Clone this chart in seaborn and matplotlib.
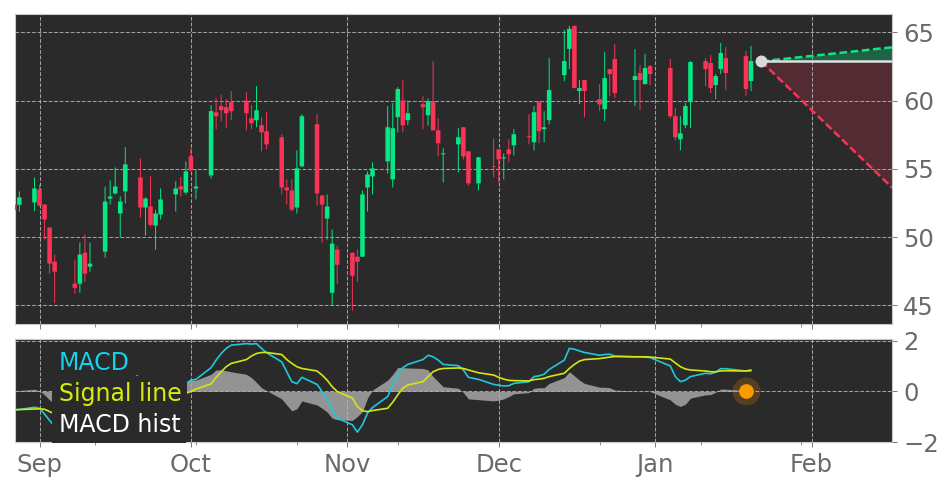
import numpy as np
import pandas as pd
import seaborn as sns
import matplotlib
matplotlib.use('Agg')
import matplotlib.pyplot as plt

dates = ['2020-08-27','2020-08-28','2020-08-31','2020-09-01','2020-09-02','2020-09-03','2020-09-04',
         '2020-09-08','2020-09-09','2020-09-10','2020-09-11','2020-09-14','2020-09-15','2020-09-16','2020-09-17','2020-09-18',
         '2020-09-21','2020-09-22','2020-09-23','2020-09-24','2020-09-25','2020-09-28','2020-09-29','2020-09-30','2020-10-01','2020-10-02',
         '2020-10-05','2020-10-06','2020-10-07','2020-10-08','2020-10-09','2020-10-12','2020-10-13','2020-10-14','2020-10-15','2020-10-16',
         '2020-10-19','2020-10-20','2020-10-21','2020-10-22','2020-10-23','2020-10-26','2020-10-27','2020-10-28','2020-10-29','2020-10-30',
         '2020-11-02','2020-11-03','2020-11-04','2020-11-05','2020-11-06','2020-11-09','2020-11-10','2020-11-11','2020-11-12','2020-11-13',
         '2020-11-16','2020-11-17','2020-11-18','2020-11-19','2020-11-20','2020-11-23','2020-11-24','2020-11-25','2020-11-27',
         '2020-11-30','2020-12-01','2020-12-02','2020-12-03','2020-12-04','2020-12-07','2020-12-08','2020-12-09','2020-12-10','2020-12-11',
         '2020-12-14','2020-12-15','2020-12-16','2020-12-17','2020-12-18','2020-12-21','2020-12-22','2020-12-23','2020-12-24',
         '2020-12-28','2020-12-29','2020-12-30','2020-12-31','2021-01-04','2021-01-05','2021-01-06','2021-01-07','2021-01-08',
         '2021-01-11','2021-01-12','2021-01-13','2021-01-14','2021-01-15','2021-01-19','2021-01-20']

opens = [52.38,52.36,52.53,53.48,52.38,50.69,48.2,
         46.58,46.58,48.85,47.83,48.93,52.82,53.19,51.72,53.34,
         54.37,52.16,52.24,50.84,51.65,53.12,53.71,53.26,55.91,53.56,
         54.51,59.14,59.59,59.51,59.88,60.0,58.7,58.56,58.19,57.75,
         57.31,53.63,53.41,52.16,55.18,58.26,53.04,51.35,45.91,49.08,
         48.85,48.56,48.56,53.63,54.44,55.54,54.22,58.78,60.0,58.56,
         59.73,58.92,59.95,57.82,56.06,56.79,58.04,56.28,53.93,
         55.18,56.42,55.76,56.42,56.72,57.38,56.94,59.88,57.9,58.56,
         61.86,63.78,65.47,60.69,61.5,60.1,59.36,62.3,63.04,
         61.5,62.01,61.2,62.52,62.38,58.85,57.16,58.19,59.88,
         62.89,62.75,61.13,62.3,63.11,63.26,61.42]
highs = [52.5,53.34,54.37,53.83,52.4,50.7,48.71,
         48.34,49.59,50.18,49.59,53.7,54.15,55.1,52.97,56.57,
         55.76,52.9,54.44,52.0,53.56,54.07,54.39,55.54,56.5,54.95,
         59.66,60.17,60.4,60.1,60.69,60.6,59.66,61.06,58.78,59.14,
         57.53,54.22,54.22,56.35,59.0,59.0,53.05,53.12,50.55,49.37,
         48.86,49.08,53.41,54.81,55.47,59.59,59.81,60.98,61.5,60.0,
         60.32,60.15,62.89,58.7,56.5,57.97,58.05,56.3,55.85,
         57.23,56.43,56.13,57.16,57.9,59.0,59.59,59.95,59.22,63.11,
         65.17,65.47,65.48,61.5,61.51,61.2,63.55,62.31,64.14,
         63.78,62.6,63.41,62.6,63.04,59.44,58.85,59.81,62.89,
         63.11,63.33,61.94,64.22,63.92,63.63,64.0]
lows = [51.9,51.87,51.9,52.26,49.81,47.31,45.15,
        45.84,45.91,46.72,47.46,48.49,52.38,53.12,50.0,52.46,
        51.43,50.1,50.77,49.08,51.28,51.87,52.97,53.12,54.81,52.75,
        54.29,57.9,58.48,57.97,58.56,57.82,57.9,58.04,56.28,56.42,
        53.12,52.38,51.87,51.72,55.1,52.31,49.58,49.81,45.03,46.58,
        44.59,46.72,48.55,51.87,53.12,54.66,53.63,57.67,57.67,58.19,
        57.9,58.16,57.8,55.91,54.0,54.73,55.69,53.78,53.41,
        54.37,54.0,54.22,55.47,55.98,56.79,56.35,56.87,56.94,58.26,
        61.42,62.3,60.9,59.73,58.78,59.22,58.48,60.32,60.17,
        59.59,59.3,61.19,61.13,58.7,57.09,56.35,57.97,57.97,
        61.06,60.54,60.1,61.94,60.76,60.35,60.69]
closes = [51.97,52.9,53.56,52.31,51.28,48.05,47.46,
          46.28,48.71,47.31,48.05,52.6,52.97,53.7,52.6,55.32,
          52.16,52.82,50.89,51.72,52.75,53.56,53.48,54.81,54.88,53.7,
          59.22,58.85,59.29,59.07,59.22,59.07,58.34,59.29,57.67,56.79,
          53.63,53.41,52.0,55.03,58.85,53.19,52.38,52.24,49.52,47.97,
          47.16,48.19,53.12,54.59,55.03,58.04,57.97,60.84,58.19,59.07,
          59.51,59.95,57.82,56.87,56.13,57.31,55.91,53.93,55.84,
          55.13,55.69,55.84,56.06,57.53,57.31,59.14,57.75,58.04,60.76,
          62.89,65.25,60.91,60.91,60.69,59.71,61.64,61.94,60.54,
          61.79,61.5,62.38,61.94,58.85,57.31,57.6,59.59,62.82,
          62.3,60.91,61.79,63.48,62.01,60.84,62.89]

macd = [-.73,-.72,-.63,-.67,-.9,-1.15,-1.39,
        -1.5,-1.35,-1.25,-1.1,-.85,-.6,-.4,-.25,-.1,
        -.15,-.2,-.25,-.22,-.15,0,.1,.3,.44,.47,
        .93,1.23,1.49,1.69,1.82,1.88,1.86,1.88,1.69,1.52,
        1.16,.77,.38,.3,.55,.27,-.01,-.34,-.73,-1.06,
        -1.32,-1.61,-1.32,-.86,-.64,-.21,.25,.67,.93,1.06,
        1.25,1.42,1.36,1.23,1.06,1.01,.84,.55,.47,
        .27,.24,.21,.22,.31,.38,.58,.61,.67,.86,
        1.23,1.69,1.66,1.59,1.53,1.42,1.45,1.46,1.39,
        1.36,1.36,1.35,1.33,1.0,.58,.38,.44,.58,
        .71,.69,.75,.89,.89,.8,.85]
signal = [-.73,-.72,-.7,-.69,-.71,-.8,-.9,
          -1.0,-1.05,-1.08,-1.1,-1.05,-.98,-.9,-.8,-.7,
          -.6,-.5,-.42,-.36,-.3,-.22,-.14,-.08,-.01,.09,
          .29,.55,.77,.97,1.1,1.25,1.39,1.49,1.53,1.53,
          1.45,1.25,1.1,.97,.9,.8,.64,.44,.18,-.01,
          -.27,-.6,-.77,-.8,-.76,-.67,-.43,-.14,.12,.25,
          .38,.58,.77,.86,.9,.92,.9,.84,.73,
          .64,.55,.48,.43,.42,.41,.46,.48,.51,.58,
          .71,.9,1.06,1.19,1.25,1.29,1.32,1.35,1.37,
          1.36,1.36,1.36,1.35,1.27,1.12,.97,.88,.84,
          .8,.77,.77,.8,.81,.8,.81]
hist = [-.01,.03,.08,.02,-.14,-.34,-.5,
        -.45,-.3,-.15,0,.2,.38,.5,.65,.8,
        .6,.5,.4,.3,.25,.22,.25,.35,.44,.44,
        .67,.84,.84,.81,.77,.67,.54,.35,.14,.03,
        -.3,-.54,-.77,-.69,-.38,-.54,-.67,-.82,-1.06,-1.12,
        -1.15,-.99,-.8,-.27,.05,.44,.67,.94,.93,.92,
        .9,.84,.58,.38,.18,.12,-.05,-.3,-.33,
        -.38,-.35,-.3,-.21,-.1,-.05,.12,.14,.14,.31,
        .54,.77,.61,.44,.31,.16,.16,.14,.05,
        .01,-.01,-.01,-.01,-.34,-.51,-.6,-.51,-.27,
        -.14,-.13,-.04,.09,.08,.03,.05]

# forecast cone
fc_dates = ['2021-01-22','2021-02-17']
fc_mid = [62.87,62.87]
fc_up = [62.87,63.9]
fc_down = [62.87,53.6]
signal_date = '2021-01-19'
signal_value = 0

month_ticks = ['2020-09-01','2020-10-01','2020-11-01','2020-12-01','2021-01-01','2021-02-01']
month_labels = ['Sep','Oct','Nov','Dec','Jan','Feb']
minor_ticks = ['2020-09-12','2020-10-02','2020-10-22','2020-11-11','2020-12-01','2020-12-21','2021-01-10','2021-01-30']
price_ticks = [45,50,55,60,65]
macd_ticks = [-2,0,2]

bg = '#2a2a2a'
up = '#06e785'
down = '#fb3356'
tick_col = '#6a6a6a'

sns.set_style('dark', rc={'axes.facecolor': bg, 'axes.edgecolor': '#c8c8c8', 'font.family': 'DejaVu Sans'})

df = pd.DataFrame({'date': pd.to_datetime(dates), 'open': opens, 'high': highs, 'low': lows, 'close': closes,
                   'macd': macd, 'signal': signal, 'hist': hist})
df['colour'] = np.where(df['close'] >= df['open'], up, down)

W, H = 948, 486
fig = plt.figure(figsize=(W / 100, H / 100), dpi=100)
ax = fig.add_axes([14.7 / W, 1 - 323.7 / H, 877.6 / W, 310 / H], facecolor=bg)
ax2 = fig.add_axes([14.7 / W, 1 - 442 / H, 877.6 / W, 102.7 / H], sharex=ax, facecolor=bg)

# candles
wicks = ax.vlines(df['date'], df['low'], df['high'], colors=df['colour'], lw=0.7, zorder=3)
wicks.set_snap(False)
bodies = ax.bar(df['date'], (df['close'] - df['open']).abs(), bottom=df[['open', 'close']].min(axis=1),
                width=0.9, color=df['colour'], lw=0, zorder=4)
for b in bodies:
    b.set_snap(False)

# forecast
fd = pd.to_datetime(fc_dates)
ax.fill_between(fd, fc_mid, fc_up, color=up, alpha=0.3, lw=0, zorder=2)
ax.fill_between(fd, fc_mid, fc_down, color=down, alpha=0.2, lw=0, zorder=2)
sns.lineplot(x=fd, y=fc_up, ax=ax, color=up, lw=1.8, dashes=(3.1, 1.4), zorder=5)
sns.lineplot(x=fd, y=fc_down, ax=ax, color=down, lw=1.8, dashes=(3.1, 1.4), zorder=5)
sns.lineplot(x=fd, y=fc_mid, ax=ax, color='#e0e0e0', lw=1.8, zorder=5)
ax.plot(fd[:1], fc_mid[:1], 'o', color='#d8d8d8', ms=8.6, mew=0, zorder=6)

# macd panel
ax2.fill_between(df['date'], 0, df['hist'], color='#9a9a9a', alpha=0.95, lw=0, zorder=2)
sns.lineplot(data=df, x='date', y='macd', ax=ax2, color='#1fc8dc', lw=1.2, zorder=3)
sns.lineplot(data=df, x='date', y='signal', ax=ax2, color='#d6e60e', lw=1.2, zorder=3)
sd = pd.to_datetime([signal_date])
ax2.plot(sd, [signal_value], 'o', color='#ff9900', ms=20, mew=0, alpha=0.2, zorder=5)
ax2.plot(sd, [signal_value], 'o', color='#ff9900', ms=10.6, mew=0, zorder=6)

box = dict(facecolor=bg, edgecolor='none', pad=4.4)
ax2.text(0.05, 0.701, 'MACD', color='#16d2e8', fontsize=17, transform=ax2.transAxes, bbox=box, zorder=7)
ax2.text(0.05, 0.399, 'Signal line', color='#d8ec0c', fontsize=17, transform=ax2.transAxes, bbox=box, zorder=7)
ax2.text(0.05, 0.094, 'MACD hist', color='white', fontsize=17, transform=ax2.transAxes, bbox=box, zorder=7)

ax.set_ylim(43.65, 66.36)
ax.set_yticks(price_ticks)
ax2.set_ylim(-2, 2.05)
ax2.set_yticks(macd_ticks)
ax2.set_xlim(pd.Timestamp('2020-08-27 02:00'), pd.Timestamp('2021-02-17'))

for a in (ax, ax2):
    a.set_xlabel('')
    a.set_ylabel('')
    a.set_xticks(pd.to_datetime(month_ticks))
    a.set_xticks(pd.to_datetime(minor_ticks), minor=True)
    a.yaxis.tick_right()
    a.set_axisbelow(False)
    a.grid(True, which='major', color='#b4b4b4', ls='--', lw=0.75, alpha=0.85)
    a.tick_params(axis='both', which='major', length=3.4, width=0.7, color='#777777', labelcolor=tick_col, labelsize=17.5,
                  bottom=True, right=True, left=False, pad=4.5)
    a.tick_params(axis='x', which='minor', length=2, width=0.6, color='#777777', bottom=True)
    for s in a.spines.values():
        s.set_linewidth(0.8)
ax.tick_params(axis='x', which='major', labelbottom=False)
ax2.set_xticklabels(month_labels)

fig.savefig('out.png', dpi=100)
